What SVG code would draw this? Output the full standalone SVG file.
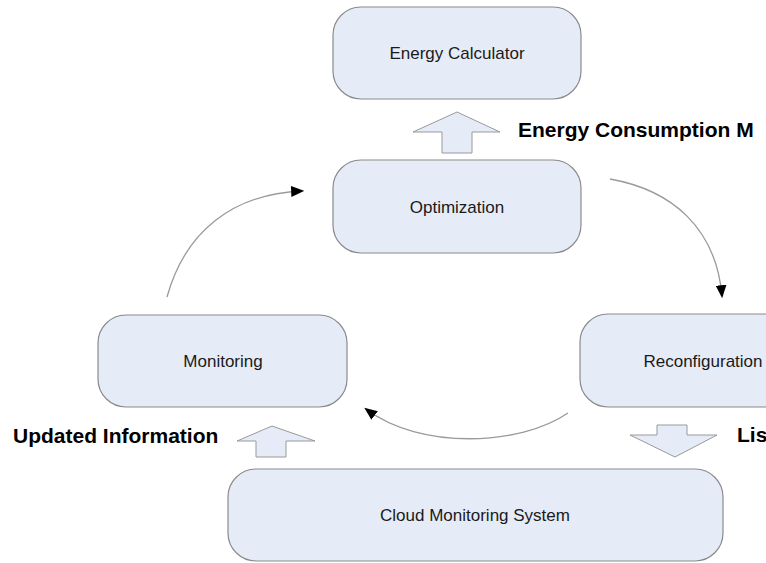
<svg xmlns="http://www.w3.org/2000/svg" width="766" height="563" viewBox="0 0 766 563">
<style>
.box{fill:#e6ecf7;stroke:#8a8a8a;stroke-width:1.2}
.blk{fill:#e6ecf7;stroke:#999;stroke-width:1}
.t{font-family:"Liberation Sans",Arial,sans-serif;font-size:17px;fill:#1a1a1a;text-anchor:middle}
.lb{font-family:"Liberation Sans",Arial,sans-serif;font-size:21px;font-weight:bold;fill:#000}
.c{fill:none;stroke:#9a9a9a;stroke-width:1.3}
</style>
<defs>
<marker id="ah" viewBox="0 0 12 10" refX="10" refY="5" markerWidth="13" markerHeight="11" markerUnits="userSpaceOnUse" orient="auto">
<path d="M0,0 L12,5 L0,10 Z" fill="#000"/>
</marker>
</defs>
<rect width="766" height="563" fill="#fff"/>
<g id="energy-calculator"><rect class="box" x="333" y="7" width="248" height="92" rx="28"/><text class="t" x="457" y="59">Energy Calculator</text></g>
<g id="optimization"><rect class="box" x="333" y="160" width="248" height="93" rx="28"/><text class="t" x="457" y="213">Optimization</text></g>
<g id="monitoring"><rect class="box" x="98" y="315" width="249" height="92" rx="28"/><text class="t" x="223" y="367">Monitoring</text></g>
<g id="reconfiguration"><rect class="box" x="580" y="314" width="248" height="93" rx="28"/><text class="t" x="703" y="367">Reconfiguration</text></g>
<g id="cloud-monitoring-system"><rect class="box" x="228" y="469" width="495" height="92" rx="28"/><text class="t" x="475" y="521">Cloud Monitoring System</text></g>
<g id="connectors">
<polygon class="blk" points="457,112 500,132 472,132 472,153 442,153 442,132 413,132"/>
<polygon class="blk" points="272,426 315,441 286,441 286,457 256,457 256,441 237,441"/>
<polygon class="blk" points="657,425 687,425 687,435 717,435 675,457 630,435 657,435"/>
<path class="c" d="M167,297 C185,232 232,194 302,191" marker-end="url(#ah)"/>
<path class="c" d="M610,179 C672,190 716,228 722,296" marker-end="url(#ah)"/>
<path class="c" d="M568,413 C520,446 420,450 366,409" marker-end="url(#ah)"/>
</g>
<g id="labels">
<text class="lb" x="518" y="137">Energy Consumption M</text>
<text class="lb" x="13" y="443">Updated Information</text>
<text class="lb" x="737" y="442">Lis</text>
</g>
</svg>
